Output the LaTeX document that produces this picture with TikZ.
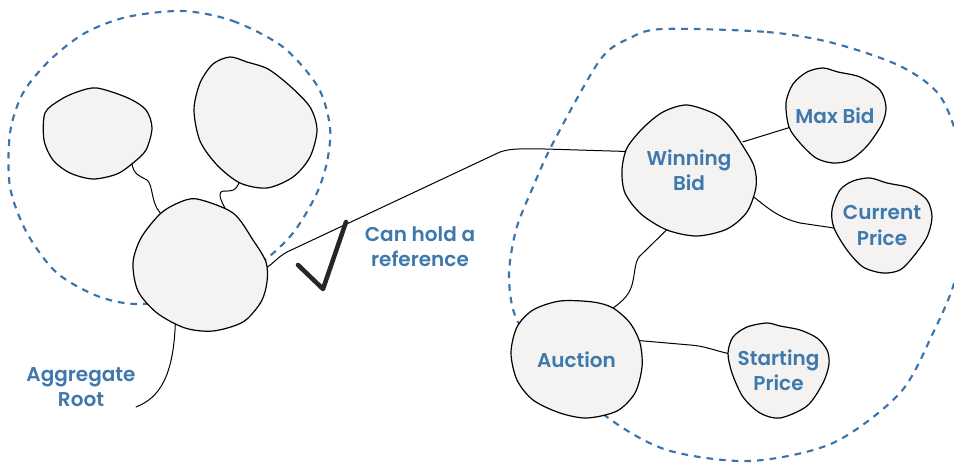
\documentclass[tikz,border=0pt]{standalone}
\usepackage{fontspec}
\setmainfont{Poppins}[BoldFont={Poppins SemiBold}]
\usetikzlibrary{backgrounds,shapes.geometric}
\definecolor{regionblue}{HTML}{3B74AA}
\definecolor{labelblue}{HTML}{3D79AC}
\definecolor{blobfill}{HTML}{F4F3F1}

\begin{document}
\begin{tikzpicture}[x=0.75pt,y=-0.75pt, every node/.style={font=\bfseries\fontsize{15}{19}\selectfont,text=labelblue,align=center}]
    \tikzstyle{region}=[draw=regionblue,line width=1.6pt,dash pattern=on 5pt off 4.5pt]
    \tikzstyle{blob}=[draw=black,line width=0.9pt,fill=blobfill]
    \tikzstyle{spot}=[ellipse,inner sep=0pt]
    \tikzstyle{link}=[draw=black,line width=0.75pt]
    \tikzstyle{tick}=[draw=black!85,line width=3.4pt,line cap=round,line join=round]
    \useasboundingbox (0,0) rectangle (954,463);

    \begin{scope}[on background layer]
    \draw[region] plot[smooth cycle] coordinates {(183,11) (233,21) (283,47) (318,87) (330,127) (327,162) (316,195) (293,233) (262,262) (210,292) (143,304) (100,297) (57,273) (27,233) (10,187) (10,133) (23,93) (50,60) (85,33) (127,17)};
    \draw[region] plot[smooth cycle] coordinates {(663,29) (767,32) (833,43) (900,66) (940,96) (960,150) (962,220) (955,280) (933,333) (900,393) (833,443) (750,461) (667,450) (607,417) (560,370) (518,322) (509,277) (516,230) (533,187) (553,143) (600,60) (630,38)};
    \end{scope}

    \draw[blob] plot[smooth cycle] coordinates {(97,88) (128,98) (146,110) (152,128) (146,150) (133,163) (117,174) (93,179) (70,173) (53,160) (44,140) (45,113) (60,100) (77,92)};
    \draw[blob] plot[smooth cycle] coordinates {(230,57) (247,62) (268,69) (290,86) (310,107) (317,130) (310,157) (293,177) (267,188) (240,183) (217,165) (200,141) (194,110) (200,83) (213,64)};
    \draw[blob] plot[smooth cycle] coordinates {(197,199) (233,213) (253,240) (266,262) (267,282) (261,302) (243,322) (213,331) (185,328) (157,313) (138,291) (133,263) (141,238) (160,214) (178,203)};
    \draw[blob] plot[smooth cycle] coordinates {(687,105) (715,114) (729,126) (741,143) (754,166) (756,187) (747,212) (727,229) (697,236) (667,230) (641,214) (625,193) (622,170) (627,148) (643,128) (663,112)};
    \draw[blob] plot[smooth cycle] coordinates {(823,68) (838,72) (860,77) (880,90) (886,107) (882,124) (867,146) (850,160) (833,163) (816,158) (800,143) (789,127) (786,103) (793,84) (807,72)};
    \draw[blob] plot[smooth cycle] coordinates {(870,178) (887,183) (910,188) (927,200) (932,217) (927,237) (913,257) (900,270) (883,273) (863,267) (847,250) (834,228) (832,210) (840,190) (853,181)};
    \draw[blob] plot[smooth cycle] coordinates {(560,301) (593,302) (613,308) (630,323) (640,343) (642,367) (635,393) (617,411) (587,418) (560,413) (533,400) (517,380) (511,353) (517,327) (533,310)};
    \draw[blob] plot[smooth cycle] coordinates {(767,323) (780,326) (800,330) (817,338) (827,350) (829,364) (823,383) (807,406) (780,418) (760,413) (743,397) (732,373) (728,353) (733,337) (747,327)};

    \node[spot,minimum width=72pt,minimum height=59pt] (entA) at (98,133.5) {};
    \node[spot,minimum width=83pt,minimum height=89pt] (entB) at (255.5,122.5) {};
    \node[spot,minimum width=91.5pt,minimum height=90pt] (root) at (200,265) {};
    \node[spot,minimum width=91.5pt,minimum height=89pt,label={center:Winning\\Bid}] (winbid) at (689,170.5) {};
    \node[spot,minimum width=66pt,minimum height=62pt,label={center:Max Bid}] (maxbid) at (835,116) {};
    \node[spot,minimum width=66pt,minimum height=62pt,label={center:Current\\Price}] (curprice) at (882,225.5) {};
    \node[spot,minimum width=89pt,minimum height=79pt,label={center:Auction}] (auction) at (576.5,360) {};
    \node[spot,minimum width=67pt,minimum height=62pt,label={center:Starting\\Price}] (startprice) at (778.5,370) {};
    \node[inner sep=0pt] (aggtext) at (81,387) {Aggregate\\Root};
    \node[inner sep=0pt] (reftext) at (420,247) {Can hold a\\reference};

    \draw[tick] (298,265) -- (323,289) -- (346,222);

    \begin{scope}[on background layer]
    \draw[link] (entA.-40) .. controls (133,175) and (140,176) .. (147,180) .. controls (154,185) and (150,208) .. (root.126);
    \draw[link] (entB.-105) .. controls (236,192) and (232,191) .. (224,191) .. controls (217,191) and (220,200) .. (root.64);
    \draw[link] (root.-114) .. controls (174,375) and (160,398) .. (aggtext.south east);
    \draw[link] (root.-5) .. controls (272,266) and (276,258) .. (287,252) -- (500,152) .. controls (512,148) and (522,149) .. (545,149) -- (winbid.162);
    \draw[link] (winbid.28) -- (maxbid.194);
    \draw[link] (winbid.-20) .. controls (765,205) and (775,217) .. (800,223) -- (curprice.184);
    \draw[link] (winbid.-109) -- (642,254) .. controls (634,260) and (636,270) .. (632,285) .. controls (628,298) and (620,303) .. (auction.58);
    \draw[link] (auction.20) -- (690,345) .. controls (705,346) and (712,350) .. (startprice.161);
    \end{scope}
\end{tikzpicture}
\end{document}
